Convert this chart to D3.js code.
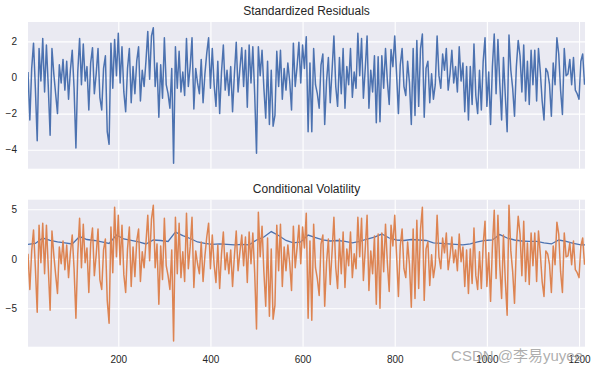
<!DOCTYPE html>
<html>
<head>
<meta charset="utf-8">
<script src="https://cdn.jsdelivr.net/npm/d3@7"></script>
<style>
  body { margin: 0; background: #fff; }
  svg { display: block; }
  text { font-family: Arial, "Liberation Sans", sans-serif; }
</style>
</head>
<body>
<svg id="chart" width="597" height="374"></svg>
<script>
// standardized residuals, one value every 4 observations (index 4 .. 1212)
var stdResid = [
  0.3, -2.35, 0.5, 1.9, -0.6, -3.5, 1.6, -0.2, 2.15, -0.8,
  1.8, -0.5, -3.2, 1.6, 0.2, -0.9, -2.0, 0.7, -0.3, 1.0,
  -0.7, 0.9, -1.2, 0.4, 1.5, -0.6, -3.9, 0.3, 2.15, -0.4,
  1.85, -0.2, 0.6, -1.8, 0.8, 1.65, -0.9, 0.2, 1.6, -1.1,
  -1.8, 0.5, 1.2, -3.0, -3.7, 1.9, -0.6, 2.1, 0.1, 2.45,
  -0.3, 1.7, -0.8, -1.9, 0.5, 1.6, -1.4, 0.6, -0.9, 0.9,
  1.7, -1.3, 0.4, -0.5, 0.9, 2.55, -0.1, 2.3, 2.75, -0.5,
  0.8, -2.2, 0.7, -1.15, 2.2, -0.4, -0.9, -1.7, 0.5, -4.75,
  1.7, -0.6, 1.45, -0.8, 0.3, -1.0, 2.15, -0.5, 0.6, 2.2,
  -1.75, 0.5, -0.3, -0.9, 1.0, -1.4, 0.2, 1.35, 2.2, -0.6,
  1.6, -0.4, -1.6, 0.9, -2.0, 0.3, 1.8, -0.7, 0.4, -1.0,
  0.6, -1.9, 0.2, 1.95, -0.8, 0.5, 1.65, -0.5, 1.5, -1.65,
  1.8, -0.3, 1.7, -0.9, -4.2, 1.7, 0.1, 1.5, -0.6, -2.25,
  0.9, -2.6, 0.4, -2.7, -2.1, 1.45, -0.5, 1.5, -1.2, 0.5,
  -0.7, 0.8, -0.2, -1.8, 1.9, -0.5, 0.6, 1.95, -0.3, 1.8,
  0.5, 2.25, -3.0, 0.8, -3.0, 1.6, -0.4, -0.9, -1.7, 0.7,
  1.3, -2.6, -0.2, 1.1, -1.4, 0.4, 2.3, -0.5, -1.6, 1.1,
  -0.9, 1.6, -1.7, 0.6, -0.4, 1.6, -1.1, 0.3, -0.6, 2.45,
  0.1, 2.15, -1.15, 0.5, 2.3, -1.7, 0.4, -0.8, 1.2, -2.5,
  1.15, -2.45, 1.2, -0.6, 1.6, -0.2, -1.5, 1.55, 0.6, 2.3,
  0.2, -2.0, 0.7, 1.6, -0.5, -1.0, 0.9, -0.3, -2.6, 1.6,
  -2.1, 2.05, -1.6, 1.6, 2.4, -2.2, 0.5, 0.9, -1.4, 0.2,
  -1.2, -0.4, 2.3, 0.1, -0.6, 1.3, 0.4, 1.6, -0.7, 0.2,
  1.5, -0.3, 0.6, -0.8, 1.7, -0.2, 0.8, -1.9, 0.6, -2.35,
  0.6, -1.5, 1.85, -1.0, -2.0, 0.4, -1.8, 0.9, 2.2, -1.6,
  0.3, -2.6, 0.6, 2.4, -0.9, 2.1, -0.3, -2.35, 1.1, -1.0,
  -3.0, 2.35, 0.4, -0.6, -2.15, 0.6, 2.05, 1.2, -0.8, 1.8,
  -1.3, 0.9, -1.5, 1.5, -0.4, 1.5, -1.3, 1.6, 0.3, -1.3,
  -2.35, 0.5, 0.3, -0.4, -2.15, 0.8, -0.4, 2.2, 1.3, -0.7,
  -2.05, 1.6, 0.1, 0.2, 1.0, -0.4, 1.1, -0.7, -0.9, -1.2,
  0.9, 1.3, -0.4
];

// residuals (orange), same index grid
var residuals = [
  0.5, -3.1, 0.8, 2.9, -0.9, -5.4, 3.4, -0.4, 3.6, -1.5,
  3.4, -0.9, -5.2, 2.8, 0.4, -1.6, -3.5, 1.2, -0.5, 1.8,
  -1.1, 1.4, -1.9, 0.6, 2.4, -1.0, -6.0, 0.5, 4.1, -0.9,
  3.5, -0.4, 1.1, -3.4, 1.5, 3.1, -1.7, 0.4, 3.0, -2.1,
  -3.1, 0.9, 2.0, -4.2, -6.5, 3.2, -1.4, 5.2, 0.2, 4.4,
  -0.6, 3.4, -1.6, -3.4, 1.0, 3.2, -2.8, 1.2, -1.8, 1.8,
  3.0, -2.3, 0.7, -0.9, 1.6, 4.4, -0.2, 4.0, 5.4, -0.9,
  1.5, -4.6, 1.3, -2.1, 4.1, -0.7, -1.7, -3.1, 0.9, -8.3,
  4.2, -1.5, 3.6, -1.9, 0.7, -2.3, 4.6, -1.0, 1.2, 4.2,
  -2.9, 0.8, -0.5, -1.5, 1.7, -2.3, 0.3, 2.2, 3.6, -1.0,
  2.4, -0.6, -2.4, 1.4, -3.0, 0.5, 2.7, -1.1, 0.6, -1.5,
  0.9, -2.8, 0.3, 2.8, -1.2, 0.7, 2.4, -0.7, 2.2, -2.4,
  2.7, -0.5, 2.6, -1.4, -7.1, 4.7, 0.2, 3.3, -1.3, -4.8,
  2.1, -5.8, 1.0, -6.1, -4.7, 3.4, -1.2, 3.5, -2.8, 1.2,
  -1.2, 1.4, -0.4, -3.2, 3.3, -0.9, 1.1, 3.4, -0.5, 3.2,
  1.1, 4.6, -6.0, 1.8, -6.2, 3.5, -0.9, -2.0, -3.7, 1.5,
  2.4, -4.8, -0.4, 2.0, -2.6, 0.7, 4.2, -0.9, -3.0, 2.0,
  -1.5, 2.7, -2.9, 1.0, -0.7, 2.7, -1.9, 0.5, -1.0, 4.2,
  0.2, 4.1, -2.2, 1.0, 4.4, -3.2, 0.8, -1.5, 2.3, -4.6,
  2.5, -5.0, 2.6, -1.3, 3.5, -0.4, -3.3, 3.4, 1.3, 4.4,
  0.4, -3.8, 1.3, 3.0, -1.0, -1.9, 1.7, -0.6, -4.9, 3.0,
  -4.0, 3.9, -3.0, 3.0, 5.2, -4.2, 1.0, 1.7, -2.7, 0.4,
  -1.9, -0.6, 4.4, 0.2, -1.0, 2.1, 0.6, 2.6, -1.1, 0.3,
  2.2, -0.4, 0.9, -1.2, 2.5, -0.3, 1.2, -2.8, 0.9, -3.5,
  1.0, -2.5, 3.1, -1.7, -3.1, 0.7, -3.0, 1.5, 3.8, -2.8,
  0.6, -4.3, 1.2, 4.9, -2.0, 4.4, -0.7, -4.0, 2.4, -2.2,
  -5.7, 5.4, 0.8, -1.3, -4.5, 1.3, 4.3, 2.5, -1.7, 3.8,
  -2.3, 1.6, -2.6, 2.6, -0.7, 2.6, -2.3, 2.8, 0.5, -2.3,
  -3.8, 0.8, 0.5, -0.6, -3.4, 1.3, -0.6, 3.7, 2.5, -1.3,
  -3.4, 2.6, 0.2, 0.3, 1.6, -0.6, 1.8, -1.1, -1.4, -1.9,
  1.3, 2.1, -0.6
];

// conditional volatility, one value every 16 observations (index 4 .. 1220)
var condVol = [
  1.45, 1.55, 2.1, 1.85, 1.7, 1.6, 1.5, 2.25, 1.95, 1.85,
  1.7, 1.55, 2.4, 2.0, 1.85, 1.7, 1.5, 1.9, 1.85, 1.75,
  2.7, 2.35, 2.05, 1.7, 1.55, 1.45, 1.5, 1.45, 1.4, 1.45,
  1.4, 1.9, 2.2, 2.75, 2.35, 1.85, 1.6, 1.7, 2.4, 2.15,
  1.9, 1.8, 1.85, 1.75, 1.6, 1.75, 2.0, 2.2, 2.5, 2.1,
  1.9, 1.85, 1.95, 1.9, 1.85, 1.6, 1.55, 1.5, 1.45, 1.4,
  1.5, 1.7, 1.85, 1.9, 2.45, 2.1, 1.9, 1.8, 1.75, 1.75,
  1.6, 1.5, 1.9, 1.75, 1.55, 1.4, 1.4
];

var xTicks = [200, 400, 600, 800, 1000, 1200];
var residTicks = [2, 0, -2, -4];
var volTicks = [5, 0, -5];

var residIndex = stdResid.map(function(d, i) { return 4 + i * 4; });
var volIndex = condVol.map(function(d, i) { return 4 + i * 16; });

var svg = d3.select('#chart');
var left = 28, right = 585;

var x = d3.scaleLinear().domain([4, 1213]).range([left, right]);

/**
 * Draw one panel: background, grid, y labels, title. Returns the panel's y scale.
 */
function drawPanel(top, bottom, yDomain, yTicks, title, showX, id) {
  var y = d3.scaleLinear().domain(yDomain).range([bottom, top]);
  var g = svg.append('g');
  g.append('rect')
    .attr('x', left).attr('y', top)
    .attr('width', right - left).attr('height', bottom - top)
    .attr('fill', '#eaeaf2');

  var gx = g.append('g')
    .attr('transform', 'translate(0,' + bottom + ')')
    .call(d3.axisBottom(x).tickValues(xTicks).tickSize(-(bottom - top)).tickPadding(9)
      .tickFormat(showX ? d3.format('d') : ''));
  var gy = g.append('g')
    .attr('transform', 'translate(' + left + ',0)')
    .call(d3.axisLeft(y).tickValues(yTicks).tickSize(-(right - left)).tickPadding(11)
      .tickFormat(d3.format('d')));
  [gx, gy].forEach(function(a) {
    a.select('.domain').remove();
    a.selectAll('line').attr('stroke', '#fff').attr('stroke-width', 1.1);
    a.selectAll('text').attr('fill', '#262626').style('font-size', '10px')
      .style('font-family', 'Arial, "Liberation Sans", sans-serif');
  });
  gx.selectAll('text').attr('dy', '0.71em');

  g.append('text')
    .attr('x', (left + right) / 2).attr('y', top - 7)
    .attr('text-anchor', 'middle')
    .attr('fill', '#262626').style('font-size', '12px')
    .text(title);

  svg.append('clipPath').attr('id', id)
    .append('rect').attr('x', left).attr('y', top)
    .attr('width', right - left).attr('height', bottom - top);
  return y;
}

var y1 = drawPanel(22, 168.7, [-5.05, 3.07], residTicks, 'Standardized Residuals', false, 'clipTop');
var y2 = drawPanel(199.7, 346.7, [-8.88, 5.97], volTicks, 'Conditional Volatility', true, 'clipBottom');

svg.append('path')
  .datum(stdResid)
  .attr('clip-path', 'url(#clipTop)')
  .attr('fill', 'none').attr('stroke', '#4c72b0').attr('stroke-width', 1.5)
  .attr('stroke-linejoin', 'round')
  .attr('d', d3.line().x(function(d, i) { return x(residIndex[i]); }).y(function(d) { return y1(d); }));

svg.append('path')
  .datum(condVol)
  .attr('clip-path', 'url(#clipBottom)')
  .attr('fill', 'none').attr('stroke', '#4c72b0').attr('stroke-width', 1.3)
  .attr('d', d3.line().x(function(d, i) { return x(volIndex[i]); }).y(function(d) { return y2(d); }));

svg.append('path')
  .datum(residuals)
  .attr('clip-path', 'url(#clipBottom)')
  .attr('fill', 'none').attr('stroke', '#dd8452').attr('stroke-width', 1.5)
  .attr('stroke-linejoin', 'round')
  .attr('d', d3.line().x(function(d, i) { return x(residIndex[i]); }).y(function(d) { return y2(d); }));

// watermark, sits over the last tick labels like in the original
svg.append('text')
  .attr('x', 583).attr('y', 361)
  .attr('text-anchor', 'end')
  .attr('fill', '#a0a0a0').attr('fill-opacity', 0.85)
  .style('font-size', '15px')
  .style('font-family', 'Arial, "Noto Sans CJK SC", sans-serif')
  .text('CSDN @李易yuyee');
</script>
</body>
</html>
